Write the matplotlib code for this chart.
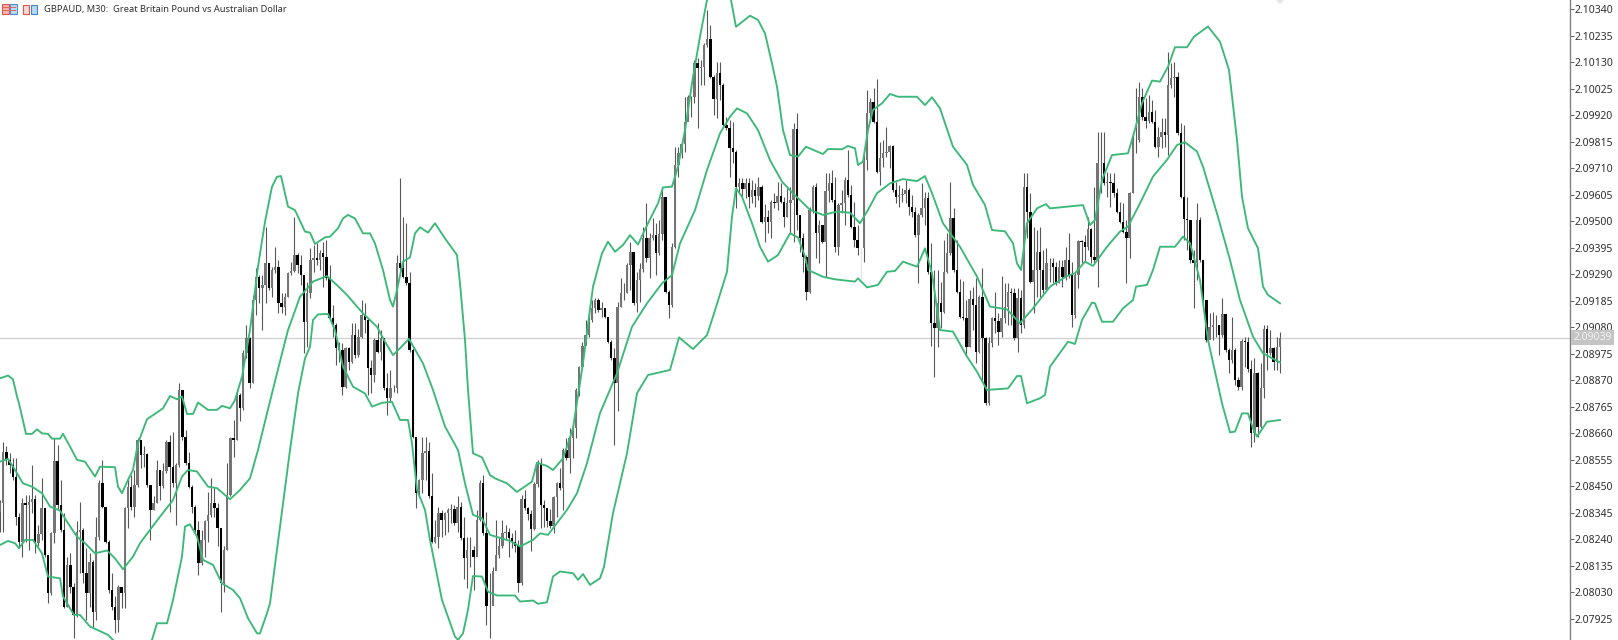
"""GBPAUD M30 candles with Bollinger bands, MT5 look."""
import numpy as np
import matplotlib
matplotlib.use("Agg")
import matplotlib.pyplot as plt
from matplotlib.patches import Polygon, Rectangle
from matplotlib.transforms import blended_transform_factory

# prices in points above 2.00000 (9039 -> 2.09039), one value per bar
first_open = 8350
closes_pts = [
    8383,8588,8555,8535,8489,8330,8231,8383,8376,8390, 8399,8225,8262,8363,8179,8027,8264,8552,8377,8278,
    7974,8139,8053,7941,8271,8278,8106,8027,8152,7954, 8251,8462,8370,8231,8040,7974,7921,8051,8027,8363,
    8449,8370,8456,8634,8575,8577,8456,8357,8383,8513, 8453,8509,8627,8528,8462,8535,8832,8647,8542,8449,
    8370,8278,8146,8238,8311,8337,8383,8363,8284,8066, 8198,8416,8641,8634,8812,8759,8977,9036,8858,9188,
    9280,9234,9247,9333,9234,9307,9317,9175,9162,9201, 9294,9304,9366,9327,9287,9102,9214,9346,9353,9346,
    9373,9360,9274,9115,9089,8997,8990,8842,8997,8944, 9049,8970,9043,9129,9109,8917,8891,9030,8983,9036,
    8838,8799,8838,8838,9333,9313,9280,9254,8990,8647, 8425,8476,8584,8590,8410,8231,8251,8344,8318,8346,
    8357,8359,8304,8370,8245,8165,8198,8198,8172,8317, 8462,8264,7977,7977,8113,8179,8212,8267,8271,8245,
    8231,8212,8066,8399,8366,8341,8280,8458,8539,8377, 8363,8311,8293,8406,8462,8443,8594,8561,8641,8680,
    8832,8924,9004,9049,9109,9155,9188,9148,9155,9122, 9023,8957,8858,9162,9217,9217,9327,9379,9175,9267,
    9310,9432,9353,9432,9445,9373,9448,9597,9221,9168, 9399,9723,9769,9806,9894,9993,9993,10125,10105,10112,
    10198,10220,10072,9984,10086,10039,9881,9868,9789,9775, 9637,9653,9626,9653,9597,9624,9598,9637,9498,9518,
    9498,9577,9573,9601,9577,9518,9571,9584,9864,9525, 9432,9360,9221,9544,9634,9452,9485,9419,9620,9650,
    9584,9399,9564,9571,9663,9604,9479,9426,9393,9393, 9743,9930,9971,9894,9696,9749,9769,9776,9798,9624,
    9597,9604,9608,9624,9558,9538,9446,9525,9551,9591, 9300,9096,9076,9175,9142,9300,9373,9512,9307,9221,
    9122,9116,9003,9191,9168,8984,9201,9036,8779,9017, 9116,9105,9063,9116,9162,9221,9215,9036,9195,9089,
    9634,9538,9261,9307,9380,9307,9228,9333,9333,9320, 9254,9320,9281,9346,9287,9129,9287,9423,9419,9399,
    9468,9360,9347,9729,9732,9650,9654,9650,9611,9538, 9498,9459,9432,9611,9822,9822,9993,9914,9897,9934,
    9894,9795,9835,9855,9842,10040,10066,10070,9848,9597, 9509,9505,9347,9333,9505,9347,9188,9030,9083,9089,
    9090,9050,9133,8990,8951,8990,8871,8845,9027,9021, 8914,8663,8898,8687,8838,9072,8980,8997,8944,9001,
    9039,
]
highs_pts = [
    8396,8627,8608,8581,8561,8561,8344,8403,8416,8416, 8535,8416,8297,8482,8363,8179,8271,8641,8614,8476,
    8344,8172,8185,8066,8311,8387,8284,8205,8185,8159, 8330,8476,8555,8370,8238,8106,8014,8060,8053,8370,
    8482,8495,8515,8641,8627,8608,8581,8416,8410,8555, 8513,8542,8634,8654,8667,8542,8858,8832,8674,8588,
    8456,8377,8311,8278,8317,8429,8482,8449,8383,8284, 8212,8542,8647,8713,8832,8819,8990,9089,9043,9208,
    9313,9287,9287,9476,9336,9320,9399,9346,9214,9214, 9300,9340,9518,9373,9366,9287,9261,9393,9406,9412,
    9386,9419,9426,9327,9168,9096,9023,9016,9003,9003, 9096,9096,9075,9188,9175,9115,8950,9036,9096,9069,
    9036,8898,8911,8850,9366,9670,9518,9492,9300,9000, 8647,8480,8647,8647,8627,8502,8317,8370,8357,8350,
    8363,8381,8377,8410,8390,8330,8251,8251,8212,8357, 8475,8495,8350,8106,8132,8317,8251,8317,8297,8284,
    8264,8278,8238,8416,8436,8370,8357,8469,8555,8561, 8396,8363,8360,8410,8469,8522,8601,8641,8680,8693,
    8839,8927,9023,9109,9135,9188,9195,9195,9181,9155, 9122,9030,9000,9180,9274,9254,9333,9419,9379,9300,
    9333,9478,9571,9452,9511,9492,9505,9637,9597,9228, 9412,9795,9795,9808,9993,10000,9997,10138,10145,10138,
    10204,10336,10277,10079,10132,10132,10046,9914,9901,9894, 9782,9670,9670,9670,9670,9663,9650,9676,9643,9568,
    9544,9584,9610,9657,9650,9597,9630,9637,9888,9927, 9518,9452,9366,9558,9643,9653,9505,9485,9690,9690,
    9703,9677,9571,9624,9674,9782,9644,9578,9485,9393, 9762,10020,9987,10026,10062,9815,9822,9872,9802,9802,
    9657,9644,9630,9663,9630,9604,9558,9531,9650,9617, 9617,9413,9307,9307,9261,9426,9452,9657,9551,9426,
    9270,9265,9188,9228,9241,9274,9208,9314,9043,9043, 9122,9221,9135,9283,9254,9254,9234,9234,9234,9228,
    9690,9690,9611,9479,9465,9479,9386,9393,9353,9353, 9340,9346,9346,9399,9452,9340,9294,9426,9426,9446,
    9518,9472,9637,9855,9855,9855,9696,9690,9690,9630, 9578,9571,9505,9617,9848,10026,10053,10026,9987,10000,
    9980,9941,9875,9908,9908,10172,10125,10132,10092,9888, 9881,9597,9485,9386,9574,9518,9347,9188,9135,9142,
    9129,9089,9195,9129,8997,9122,8997,8885,9032,9043, 9043,8951,8957,8904,8937,9089,9089,9069,9003,9043,
    9063,
]
lows_pts = [
    8271,8271,8535,8502,8476,8297,8205,8172,8231,8198, 8344,8185,8212,8238,8172,7987,8020,8225,8357,8271,
    7967,7974,8027,7849,7934,8106,8066,7921,7974,7895, 7921,8238,8363,8225,8027,7961,7868,7875,7967,7967,
    8284,8357,8330,8449,8522,8528,8449,8238,8357,8383, 8396,8443,8502,8350,8449,8297,8528,8634,8535,8443,
    8344,8271,8099,8139,8172,8231,8330,8330,8212,7954, 8033,8198,8410,8568,8634,8707,8753,8960,8838,8858,
    9129,9175,9069,9175,9228,9201,9294,9135,9135,9129, 9198,9287,9300,9294,9247,8977,9003,9195,9300,9327,
    9307,9241,9267,9109,9043,8931,8944,8812,8838,8911, 8937,8957,8964,9036,9056,8812,8818,8865,8977,8950,
    8832,8733,8785,8825,8818,9307,9274,9247,8983,8640, 8363,8410,8423,8476,8403,8225,8225,8205,8251,8258,
    8271,8304,8297,8271,8238,8082,8047,8132,8040,8198, 8311,8258,7901,7849,7981,8132,8165,8205,8238,8172,
    8205,8192,8033,8060,8357,8317,8196,8278,8449,8284, 8291,8291,8284,8264,8330,8436,8357,8555,8502,8561,
    8641,8806,8924,9016,9043,9102,9135,9142,9122,9115, 9016,8950,8614,8749,9162,9188,9214,9228,9168,9142,
    9181,9300,9340,9274,9426,9287,9366,9426,9214,9115, 9162,9393,9676,9749,9775,9901,9914,9967,9868,10039,
    10039,10191,10066,9921,9907,9980,9874,9861,9676,9729, 9551,9617,9597,9591,9551,9571,9558,9584,9492,9419,
    9452,9432,9551,9544,9571,9478,9518,9452,9419,9465, 9379,9300,9188,9214,9531,9353,9333,9412,9280,9578,
    9578,9380,9366,9531,9485,9597,9472,9399,9366,9270, 9340,9703,9894,9888,9690,9644,9716,9756,9710,9617,
    9571,9558,9578,9571,9525,9518,9439,9254,9518,9485, 9293,9006,8885,9003,9076,9135,9294,9366,9300,9214,
    9116,9109,8970,9003,9069,8937,8977,8865,8772,8772, 9003,9056,9010,9043,9096,9089,9089,9030,8984,9056,
    9076,9432,9254,9135,9201,9201,9215,9241,9261,9254, 9248,9254,9241,9267,9274,9083,9115,9234,9333,9340,
    9386,9333,9333,9241,9611,9644,9597,9558,9597,9531, 9492,9452,9254,9353,9611,9769,9815,9901,9868,9888,
    9888,9789,9756,9789,9795,9762,10026,9993,9842,9591, 9426,9386,9333,9155,9267,9340,9182,9023,9036,9030,
    9043,8970,9043,8984,8898,8937,8852,8832,8832,8924, 8904,8607,8627,8647,8680,8799,8911,8970,8911,8911,
    8898,
]
faint_bars = [269]

# band vertices: position along the time axis (one bar = 3.2), value in points
upper_at = [0,8,13,17,19,26,32,37,42,48,52,60,63,70,77,85,95,100,115,118,122,128,133,138,147,163,170,177,182,187,193,198,208,217,222,230,235,242,250,258,265,272,277,281,288,295,302,305,310,315,325,330,338,343,348,355,363,370,375,383,390,393,397,403,410,415,420,428,435,445,457,460,465,468,473,482,490,495,507,517,532,537,547,553,563,573,583,593,602,608,615,623,630,638,648,658,663,672,678,685,693,700,707,718,731,736,750,758,765,772,777,783,790,798,806,823,828,842,848,855,858,863,868,873,882,890,898,917,925,932,940,953,967,973,985,992,1005,1013,1017,1021,1027,1037,1046,1050,1083,1090,1095,1102,1112,1128,1133,1142,1152,1160,1168,1175,1187,1194,1208,1220,1229,1237,1242,1248,1258,1263,1268,1280]
upper_pts = [8878,8889,8874,8806,8779,8658,8658,8676,8660,8658,8639,8639,8658,8608,8555,8548,8489,8528,8526,8449,8423,8476,8515,8621,8716,8759,8808,8795,8806,8737,8737,8782,8753,8753,8769,8759,8792,8884,9069,9320,9498,9637,9676,9679,9558,9544,9485,9459,9455,9410,9436,9439,9472,9511,9525,9511,9452,9452,9412,9307,9188,9162,9228,9340,9357,9452,9476,9455,9492,9432,9366,9254,9030,8832,8581,8565,8495,8482,8462,8428,8469,8544,8531,8515,8561,8680,8938,9241,9373,9419,9379,9406,9445,9408,9492,9571,9634,9637,9716,9861,10072,10231,10376,10500,10376,10270,10314,10297,10244,10125,10033,9861,9762,9756,9795,9766,9786,9785,9798,9789,9723,9736,9861,9941,9967,10004,9993,9993,9960,9991,9947,9795,9723,9644,9564,9465,9460,9413,9333,9307,9492,9551,9568,9551,9564,9485,9505,9663,9762,9769,9835,9967,10057,10053,10112,10189,10189,10231,10271,10211,10099,9822,9597,9472,9393,9241,9208,9175]
middle_at = [0,8,15,23,32,42,50,60,68,77,85,95,107,115,123,133,140,150,160,173,182,188,197,208,217,230,240,250,258,267,277,288,300,313,327,337,347,363,377,385,393,400,409,423,433,445,458,465,473,482,490,510,520,533,540,548,567,577,587,600,617,632,647,662,672,680,695,707,720,730,737,747,758,770,782,793,800,810,823,837,850,860,868,877,890,903,917,925,932,943,960,977,990,1007,1020,1033,1050,1067,1075,1085,1093,1107,1120,1128,1140,1153,1167,1177,1185,1197,1203,1217,1230,1240,1253,1263,1280]
middle_pts = [8548,8559,8515,8462,8449,8423,8370,8354,8304,8251,8225,8185,8196,8165,8122,8172,8225,8278,8330,8396,8489,8515,8509,8449,8443,8399,8436,8482,8594,8739,8898,9069,9201,9261,9283,9247,9208,9135,9082,9023,8970,8997,9034,8937,8832,8687,8594,8462,8337,8324,8258,8234,8212,8238,8264,8258,8357,8423,8542,8740,8898,9082,9175,9254,9287,9412,9544,9703,9848,9914,9947,9927,9861,9742,9657,9610,9584,9545,9525,9538,9534,9492,9545,9611,9650,9667,9659,9679,9611,9492,9399,9281,9162,9151,9096,9155,9241,9283,9294,9340,9323,9399,9459,9479,9571,9677,9743,9802,9813,9776,9716,9531,9347,9188,9043,8977,8941]
lower_at = [0,8,15,19,25,33,42,48,60,63,74,80,90,108,113,133,152,157,167,173,182,185,190,197,203,213,222,233,240,248,257,260,267,270,290,298,305,310,313,318,328,335,343,353,365,372,382,392,400,408,412,417,425,430,442,455,458,463,468,473,482,488,497,515,520,533,538,547,553,560,573,578,583,590,600,604,613,627,637,648,660,670,679,693,707,713,727,732,736,742,752,760,768,778,790,798,805,808,823,835,855,858,867,878,887,895,903,917,925,932,940,953,967,977,987,1008,1017,1021,1027,1040,1045,1050,1068,1075,1082,1092,1095,1102,1113,1123,1133,1136,1147,1153,1160,1175,1183,1190,1200,1208,1222,1230,1235,1242,1248,1253,1257,1267,1280]
lower_pts = [8218,8234,8225,8205,8238,8238,8185,8093,8086,8014,7941,7941,7895,7862,7842,7780,7842,7908,7908,8000,8172,8291,8300,8251,8159,8139,8066,8040,8007,7928,7868,7868,7948,7987,8594,8818,8957,9003,9109,9131,9133,9069,8924,8845,8818,8766,8781,8785,8713,8713,8621,8436,8357,8238,8000,7855,7842,7868,7961,8095,8093,8033,8018,8018,7994,7998,7985,7991,8093,8113,8106,8080,8103,8060,8086,8132,8344,8581,8819,8891,8902,8911,9040,8994,9049,9122,9300,9518,9630,9597,9492,9399,9340,9366,9452,9436,9360,9307,9280,9270,9261,9274,9238,9248,9300,9303,9340,9320,9393,9294,9069,9063,8964,8904,8832,8838,8887,8887,8779,8799,8812,8924,9023,9014,9109,9178,9175,9102,9102,9155,9188,9241,9248,9307,9399,9399,9439,9413,9267,9030,8779,8664,8667,8739,8739,8680,8647,8706,8713]

current_price = 2.09039
tick_first, tick_step, tick_count = 2.07925, 0.00105, 24
title = "GBPAUD, M30:  Great Britain Pound vs Australian Dollar"


def to_price(pts):
    return 2.0 + np.array(pts, dtype=float) / 1e5


BAR = 3.2
closes = to_price(closes_pts)
opens = np.r_[to_price([first_open]), closes[:-1]]
highs = to_price(highs_pts)
lows = to_price(lows_pts)
xs = np.arange(len(closes)) * BAR
up = closes >= opens
wick_colors = np.array(["#585858"] * len(closes), dtype=object)
wick_colors[faint_bars] = "#e4e4e4"

fig = plt.figure(figsize=(16.18, 6.4), dpi=100, facecolor="white")
ax = fig.add_axes([0, 0, 1570 / 1618, 1])

ax.axhline(current_price, color="#cfcfcf", lw=0.9, zorder=1)
ax.vlines(xs, lows, highs, colors=list(wick_colors), lw=0.8, zorder=2)
body = np.abs(closes - opens)
bottom = np.minimum(opens, closes)
ax.bar(xs[up], body[up], bottom=bottom[up], width=2.5, color="#757575", lw=0, zorder=3)
ax.bar(xs[~up], body[~up], bottom=bottom[~up], width=2.5, color="black", lw=0, zorder=3)

for at, pts in ((upper_at, upper_pts), (middle_at, middle_pts), (lower_at, lower_pts)):
    ax.plot(at, to_price(pts), color="#3cb878", lw=1.35, zorder=4, solid_joinstyle="round")

ax.set_xlim(0, 1570)
ax.set_ylim(2.078417, 2.103761)
ax.xaxis.set_visible(False)
for side in ("left", "top", "bottom"):
    ax.spines[side].set_visible(False)
ax.spines["right"].set_color("#808080")
ax.spines["right"].set_linewidth(1.0)
ax.yaxis.tick_right()
ticks = tick_first + tick_step * np.arange(tick_count)
ax.set_yticks(ticks)
ax.set_yticklabels([f"{t:.5f}" for t in ticks], fontsize=7.5, family="Noto Sans", color="#303030")
ax.tick_params(axis="y", length=2.6, width=0.7, color="#606060", pad=1)

trans = blended_transform_factory(ax.transAxes, ax.transData)
ax.text(1.0021, current_price, f"{current_price:.5f}", transform=trans, ha="left", va="center",
        fontsize=7.5, family="Noto Sans", color="#f2f2f2", zorder=6, clip_on=False,
        bbox=dict(boxstyle="square,pad=0.18", facecolor="#c4c4c4", edgecolor="none"))

# toolbar icons in the top left corner
W, H = fig.get_size_inches() * fig.dpi
def icon(x, y, w, h, **kw):
    fig.add_artist(Rectangle((x / W, 1 - (y + h) / H), w / W, h / H, transform=fig.transFigure, **kw))

icon(2, 4, 7, 10, facecolor="#f7b3ac", edgecolor="#e0584c", lw=0.8)
icon(10, 4, 7, 10, facecolor="#bcd8f2", edgecolor="#4c8fd0", lw=0.8)
for yy in (7, 10):
    icon(3, yy, 13, 0.8, facecolor="#e06a5f", edgecolor="none")
icon(23, 5, 6, 9, facecolor="#fbd8d4", edgecolor="#e0584c", lw=0.8)
icon(31, 5, 6, 9, facecolor="#bcd8f2", edgecolor="#3f86cc", lw=0.8)
fig.text(44 / W, 1 - 9.5 / H, title, fontsize=6.7, family="Noto Sans", color="#303030", va="center", ha="left")

# chart shift marker, cut by the top edge
fig.add_artist(Polygon([(1276 / W, 1), (1284 / W, 1), (1280 / W, 1 - 4 / H)],
                       transform=fig.transFigure, facecolor="#e6e6e6", edgecolor="none"))

fig.savefig("out.png", dpi=100)
